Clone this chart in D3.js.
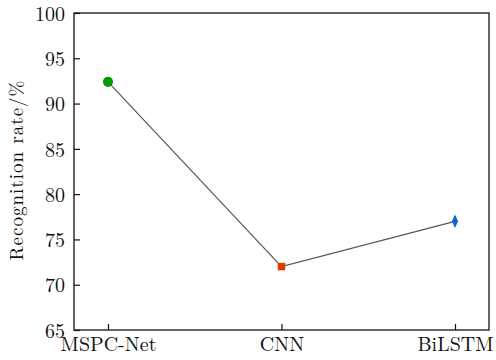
<!DOCTYPE html>
<html>
<head>
<meta charset="utf-8">
<script src="https://cdn.jsdelivr.net/npm/d3@7"></script>
<style>
  body { margin: 0; background: #fff; }
  text { font-family: "Latin Modern Roman", "Liberation Serif", serif; fill: #111; }
</style>
</head>
<body>
<svg id="svg" width="496" height="360"></svg>
<script>
var models = ["MSPC-Net", "CNN", "BiLSTM"];
var rates = [92.4, 72.0, 77.0];
var markerTypes = ["circle", "square", "diamond"];
var markerColors = ["#009a00", "#dd3a00", "#0a66cc"];
var yTicks = [65, 70, 75, 80, 85, 90, 95, 100];

var fontFam = '"Latin Modern Roman", "Liberation Serif", serif';

var svg = d3.select("#svg"),
    margin = {left: 74, right: 7, top: 13, bottom: 30},
    width = 496 - margin.left - margin.right,
    height = 360 - margin.top - margin.bottom;

var g = svg.append("g")
    .attr("transform", "translate(" + margin.left + "," + margin.top + ")");

var x = d3.scalePoint()
    .domain(models)
    .range([0, width])
    .padding(0.196);

var y = d3.scaleLinear()
    .domain([65, 100])
    .range([height, 0]);

// frame
g.append("rect")
    .attr("width", width)
    .attr("height", height)
    .attr("fill", "none")
    .attr("stroke", "#111")
    .attr("stroke-width", 1.3);

// axes, ticks pointing inward
var yAxis = g.append("g")
    .call(d3.axisLeft(y).tickValues(yTicks).tickSize(-6).tickPadding(9));
var xAxis = g.append("g")
    .attr("transform", "translate(0," + height + ")")
    .call(d3.axisBottom(x).tickSize(-6).tickPadding(4));

[yAxis, xAxis].forEach(function(a) {
    a.attr("font-family", fontFam);
    a.select(".domain").remove();
    a.selectAll("line").attr("stroke", "#111").attr("stroke-width", 1.2);
    a.selectAll("text")
        .style("font-family", fontFam)
        .style("font-size", "20px")
        .attr("fill", "#111");
});
yAxis.selectAll("text").attr("dy", "0.36em");
xAxis.selectAll("text").attr("y", 7).attr("dy", "0.71em");

// line
var line = d3.line()
    .x(function(d, i) { return x(models[i]); })
    .y(function(d) { return y(d); });

g.append("path")
    .datum(rates)
    .attr("d", line)
    .attr("fill", "none")
    .attr("stroke", "#555")
    .attr("stroke-width", 1.2);

// markers
var symbolFor = {
    circle: d3.symbol().type(d3.symbolCircle).size(80),
    square: d3.symbol().type(d3.symbolSquare).size(56),
    diamond: d3.symbol().type(d3.symbolDiamond).size(44)
};

g.selectAll(".marker")
    .data(rates)
    .enter()
    .append("path")
    .attr("class", "marker")
    .attr("transform", function(d, i) {
        var s = markerTypes[i] === "diamond" ? " scale(0.85,1.1)" : "";
        return "translate(" + x(models[i]) + "," + y(d) + ")" + s;
    })
    .attr("d", function(d, i) { return symbolFor[markerTypes[i]](); })
    .attr("fill", function(d, i) { return markerColors[i]; });

// y label
svg.append("text")
    .attr("transform", "translate(23," + 170 + ") rotate(-90)")
    .attr("text-anchor", "middle")
    .style("font-family", fontFam)
    .style("font-size", "19px")
    .style("letter-spacing", "1px")
    .text("Recognition rate/%");
</script>
</body>
</html>
